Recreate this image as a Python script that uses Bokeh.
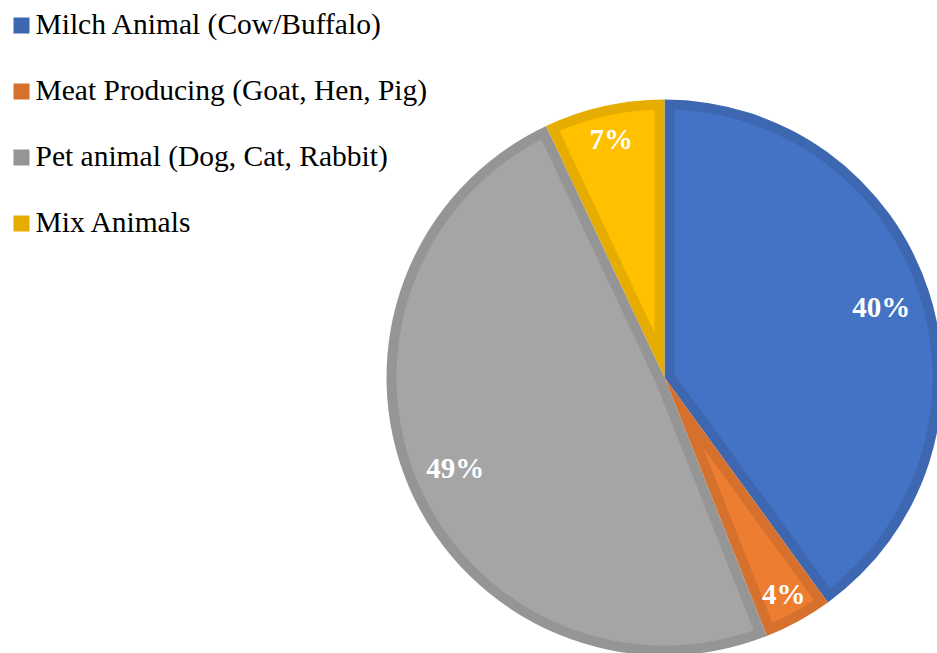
import numpy as np
from bokeh.plotting import figure
from bokeh.models import Range1d
from bokeh.core.properties import value
from bokeh.embed import file_html
from bokeh.resources import INLINE

# ---- data ----
categories = ["Milch Animal (Cow/Buffalo)", "Meat Producing (Goat, Hen, Pig)",
              "Pet animal (Dog, Cat, Rabbit)", "Mix Animals"]
shares = [40, 4, 49, 7]
labels = ["40%", "4%", "49%", "7%"]
fill_colors = ["#4472C4", "#ED7D31", "#A5A5A5", "#FFC000"]
edge_colors = ["#3D67B0", "#D5712C", "#959595", "#E6AD00"]
label_pos = [0.82, 0.89, 0.82, 0.88]   # label distance as fraction of radius

# ---- layout (pixels == data units) ----
W, H = 937, 653
cx, cy, R, BW = 664, 276, 278, 10

p = figure(width=W, height=H, output_backend="svg", toolbar_location=None,
           x_range=Range1d(0, W), y_range=Range1d(0, H), min_border=0)
p.axis.visible = False
p.grid.visible = False
p.outline_line_color = None
p.background_fill_color = "white"

vals = np.array(shares, dtype=float)
frac = vals / vals.sum()
c1 = np.cumsum(frac)
c0 = c1 - frac
a_start = np.pi / 2 - 2 * np.pi * c1
a_end = np.pi / 2 - 2 * np.pi * c0

p.wedge(x=cx, y=cy, radius=R, start_angle=a_start, end_angle=a_end,
        fill_color=edge_colors, line_color=None)

xs, ys = [], []
delta = np.arcsin(BW / (R - BW))
for s, e in zip(a_start, a_end):
    half = (e - s) / 2
    mid = (s + e) / 2
    d = BW / np.sin(half)
    ax, ay = cx + d * np.cos(mid), cy + d * np.sin(mid)
    t = np.linspace(s + delta, e - delta, 200)
    xs.append([ax] + list(cx + (R - BW) * np.cos(t)))
    ys.append([ay] + list(cy + (R - BW) * np.sin(t)))
p.patches(xs=xs, ys=ys, fill_color=fill_colors, line_color=None)

mids = (a_start + a_end) / 2
lx = cx + np.array(label_pos) * R * np.cos(mids)
ly = cy + np.array(label_pos) * R * np.sin(mids)
p.text(x=lx, y=ly, text=labels, text_color="white",
       text_font=value("Liberation Serif"), text_font_style="bold",
       text_font_size="29px", text_align="center", text_baseline="middle")

idx = np.arange(len(categories))
base_y = 620 - 66 * idx
p.rect(x=21, y=base_y + 8, width=16, height=16, fill_color=edge_colors, line_color=None)
p.text(x=35, y=base_y + 10, text=categories, text_color="black",
       text_font=value("Liberation Serif"), text_font_size="29.5px",
       text_align="left", text_baseline="alphabetic")

open("out.html", "w").write(file_html(p, INLINE))
